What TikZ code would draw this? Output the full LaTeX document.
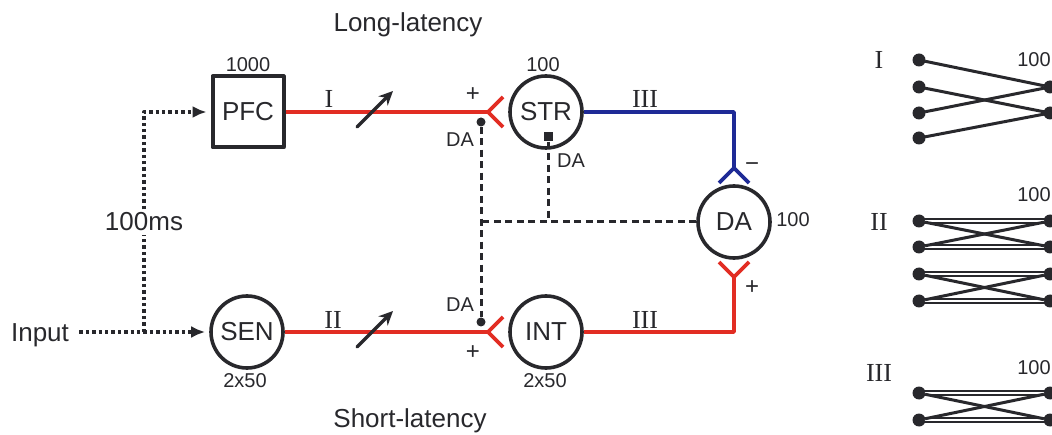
\documentclass[tikz,border=0pt]{standalone}
\usepackage{fontspec}
\setmainfont{Liberation Sans}
\newfontfamily\romanfont{Liberation Serif}
\usetikzlibrary{arrows.meta,calc}

\definecolor{excred}{RGB}{226,45,35}
\definecolor{inhblue}{RGB}{30,42,150}
\definecolor{inkgray}{RGB}{40,40,44}

\begin{document}
\begin{tikzpicture}[x=1pt,y=1pt,line cap=round,line join=round,
        every node/.style={text=inkgray,font=\fontsize{26}{30}\selectfont},
        neuron/.style={draw=inkgray,circle,line width=3.6pt,minimum size=72pt,inner sep=0pt},
        area/.style={draw=inkgray,rectangle,line width=4pt,minimum size=71pt,inner sep=0pt},
        tag/.style={font=\fontsize{20}{24}\selectfont},
        proj/.style={font=\romanfont\fontsize{26}{30}\selectfont},
        sign/.style={font=\fontsize{24}{28}\selectfont},
        delayline/.style={draw=inkgray,line width=4pt,line cap=butt,dash pattern=on 3.4pt off 3pt},
        exc/.style={draw=excred,line width=3.6pt,line cap=butt},
        inh/.style={draw=inhblue,line width=3.6pt,line cap=butt},
        mod/.style={draw=inkgray,line width=3pt,line cap=butt,dash pattern=on 7pt off 4.5pt},
        dadot/.style={fill=inkgray,circle,minimum size=9pt,inner sep=0pt},
        dasq/.style={fill=inkgray,rectangle,minimum size=9pt,inner sep=0pt},
        unit/.style={fill=inkgray,circle,minimum size=13pt,inner sep=0pt},
        wire/.style={draw=inkgray,line width=3pt},
        pairwire/.style={draw=inkgray,line width=2pt,double=white,double distance=2pt}]
        \useasboundingbox (0,0) rectangle (1052,434);

        % Titulos de las dos vias
        \node[anchor=base] (long) at (408,402) {Long-latency};
        \node[anchor=base] (short) at (410,7) {Short-latency};

        % Areas y poblaciones
        \node[area] (pfc) at (248,322) {PFC};
        \node[neuron] (sen) at (247,102) {SEN};
        \node[neuron] (str) at (546,322) {STR};
        \node[neuron] (int) at (546,102) {INT};
        \node[neuron] (da) at (734,212) {DA};
        \node[tag] (npfc) at (248,369) {1000};
        \node[tag] (nsen) at (245,53) {2x50};
        \node[tag] (nstr) at (543,369) {100};
        \node[tag] (nint) at (545,53) {2x50};
        \node[tag] (nda) at (793,214) {100};

        % Entrada y retardo
        \node (input) at (40,99) {Input};
        \node (delay) at (144,212) {100ms};
        \coordinate (split) at (144,102);
        \draw[delayline,-{Latex[length=14pt,width=12pt]},shorten <=7pt,shorten >=4pt]
            (input.east |- split) -- (sen);
        \draw[delayline] (split) -- (delay);
        \draw[delayline,-{Latex[length=14pt,width=12pt]},shorten >=4pt]
            (delay) |- (pfc);

        % Proyecciones excitadoras e inhibidoras
        \coordinate (synstr) at (488,322);
        \coordinate (synint) at (488,102);
        \coordinate (synup) at (734,266);
        \coordinate (syndown) at (734,157);
        \draw[exc] (pfc) -- (synstr);
        \draw[exc] (sen) -- (synint);
        \draw[exc] (int) -| (syndown);
        \draw[inh] (str) -| (synup);
        \foreach \p in {synstr,synint} {
            \draw[exc] ($(\p)+(15,15)$) -- (\p) -- ($(\p)+(15,-15)$);
        }
        \draw[exc] ($(syndown)+(-15,15)$) -- (syndown) -- ($(syndown)+(15,15)$);
        \draw[inh] ($(synup)+(-15,-15)$) -- (synup) -- ($(synup)+(15,-15)$);

        % Sinapsis plasticas
        \draw[inkgray,line width=3.4pt,-{Stealth[length=14pt,width=13pt]}] (357,307) -- (393,343);
        \draw[inkgray,line width=3.4pt,-{Stealth[length=14pt,width=13pt]}] (357,87) -- (393,123);

        % Etiquetas de las proyecciones
        \node[proj] (pI) at (329,335) {I};
        \node[proj] (pII) at (333,114) {II};
        \node[proj] (pIIIa) at (645,335) {III};
        \node[proj] (pIIIb) at (645,114) {III};
        \node[sign] (sstr) at (473,339) {+};
        \node[sign] (sint) at (473,81) {+};
        \node[sign] (sdaup) at (752,267) {−};
        \node[sign] (sdadown) at (752,146) {+};

        % Modulacion dopaminergica
        \node[dadot] (dastr) at (481,312) {};
        \node[dadot] (daint) at (481,112) {};
        \node[dasq] (dasq) at (548,297) {};
        \coordinate (dajoin) at (481,212);
        \coordinate (dabend) at (548,212);
        \draw[mod] (dastr) -- (daint);
        \draw[mod] (da) -- (dajoin);
        \draw[mod] (dasq) -- (dabend);
        \node[tag] (tdastr) at (460,294) {DA};
        \node[tag] (tdaint) at (460,129) {DA};
        \node[tag] (tdasq) at (571,273) {DA};

        % Conectividad de cada proyeccion
        \node[proj] (cI) at (879,374) {I};
        \node[proj] (cII) at (879,212) {II};
        \node[proj] (cIII) at (879,61) {III};
        \foreach \y in {374,239,66} {
            \node[tag] at (1034,\y) {100};
        }
        \foreach \y [count=\i] in {374,347,321,296} {
            \node[unit] (a\i) at (919,\y) {};
        }
        \foreach \y [count=\i] in {347,321} {
            \node[unit] (b\i) at (1050,\y) {};
        }
        \foreach \s/\t in {a1/b1,a2/b2,a3/b1,a4/b2} {
            \draw[wire] (\s) -- (\t);
        }
        \foreach \y [count=\i] in {213,187,160,133} {
            \node[unit] (c\i) at (919,\y) {};
            \node[unit] (d\i) at (1050,\y) {};
            \draw[pairwire] (c\i) -- (d\i);
        }
        \foreach \s/\t in {c1/d2,c2/d1,c3/d4,c4/d3} {
            \draw[wire] (\s) -- (\t);
        }
        \foreach \y [count=\i] in {41,14} {
            \node[unit] (e\i) at (919,\y) {};
            \node[unit] (f\i) at (1050,\y) {};
            \draw[pairwire] (e\i) -- (f\i);
        }
        \draw[wire] (e1) -- (f2);
        \draw[wire] (e2) -- (f1);
    \end{tikzpicture}
\end{document}
